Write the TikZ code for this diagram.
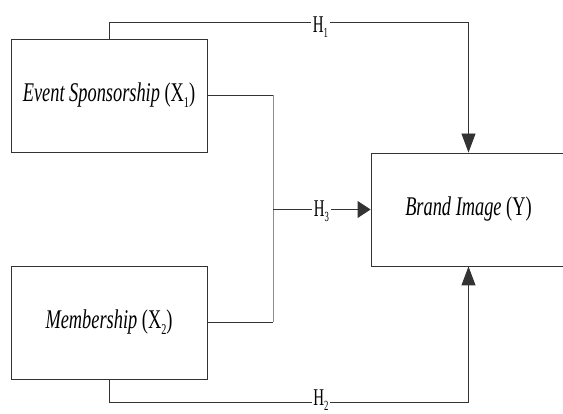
\documentclass[tikz,border=0pt]{standalone}
\usepackage{fontspec}
\setmainfont{Liberation Serif}[FakeStretch=0.68]
\newfontfamily\labfont{Liberation Serif}[FakeStretch=0.62]
\usetikzlibrary{arrows.meta}
\newcommand\subx[1]{\raisebox{-0.22em}{\fontsize{15}{15}\selectfont #1}}
\newcommand\subh[1]{\raisebox{-0.2em}{\fontsize{14}{14}\selectfont #1}}
\begin{document}
\begin{tikzpicture}[x=1pt,y=-1pt,
  varbox/.style={draw=black!80, line width=0.9pt, rectangle, inner sep=0pt,
    minimum width=196pt, minimum height=113pt, font=\fontsize{27}{32}\selectfont},
  conn/.style={draw=black!80, line width=0.9pt},
  hlab/.style={fill=white, inner xsep=1.5pt, inner ysep=1pt, anchor=base,
    font=\labfont\fontsize{24}{28}\selectfont},
  vtip/.style={-{Triangle[length=19pt,width=14pt]}},
  htip/.style={-{Triangle[length=13pt,width=17pt]}}]
\useasboundingbox (0,0) rectangle (563,414);
\clip (0,0) rectangle (563,414);
\node[varbox] (es) at (109,95.5) {\textit{Event Sponsorship} (X\subx{1})};
\node[varbox] (mem) at (109,322.5) {\textit{Membership} (X\subx{2})};
\node[varbox, minimum width=195pt] (bi) at (468.5,209.5) {\textit{Brand Image} (Y)};
\coordinate (t1) at (109,22);
\coordinate (t2) at (468.5,22);
\coordinate (b1) at (109,402);
\coordinate (b2) at (468.5,402);
\coordinate (m1) at (273,95.5);
\coordinate (m2) at (273,322.5);
\coordinate (m3) at (273,209.5);
% H1
\draw[conn, vtip] (es.north) -- (t1) -- (t2) -- (bi.north);
% H2
\draw[conn, vtip] (mem.south) -- (b1) -- (b2) -- (bi.south);
% H3
\draw[conn] (es.east) -- (m1);
\draw[conn] (mem.east) -- (m2);
\draw[draw=black!45, line width=1pt] (m1) -- (m2);
\draw[conn, htip] (m3) -- (bi.west);
\node[hlab] (h1) at (320.5,33) {H\subh{1}};
\node[hlab] (h3) at (321.5,217) {H\subh{3}};
\node[hlab] (h2) at (321,406) {H\subh{2}};
\end{tikzpicture}
\end{document}
